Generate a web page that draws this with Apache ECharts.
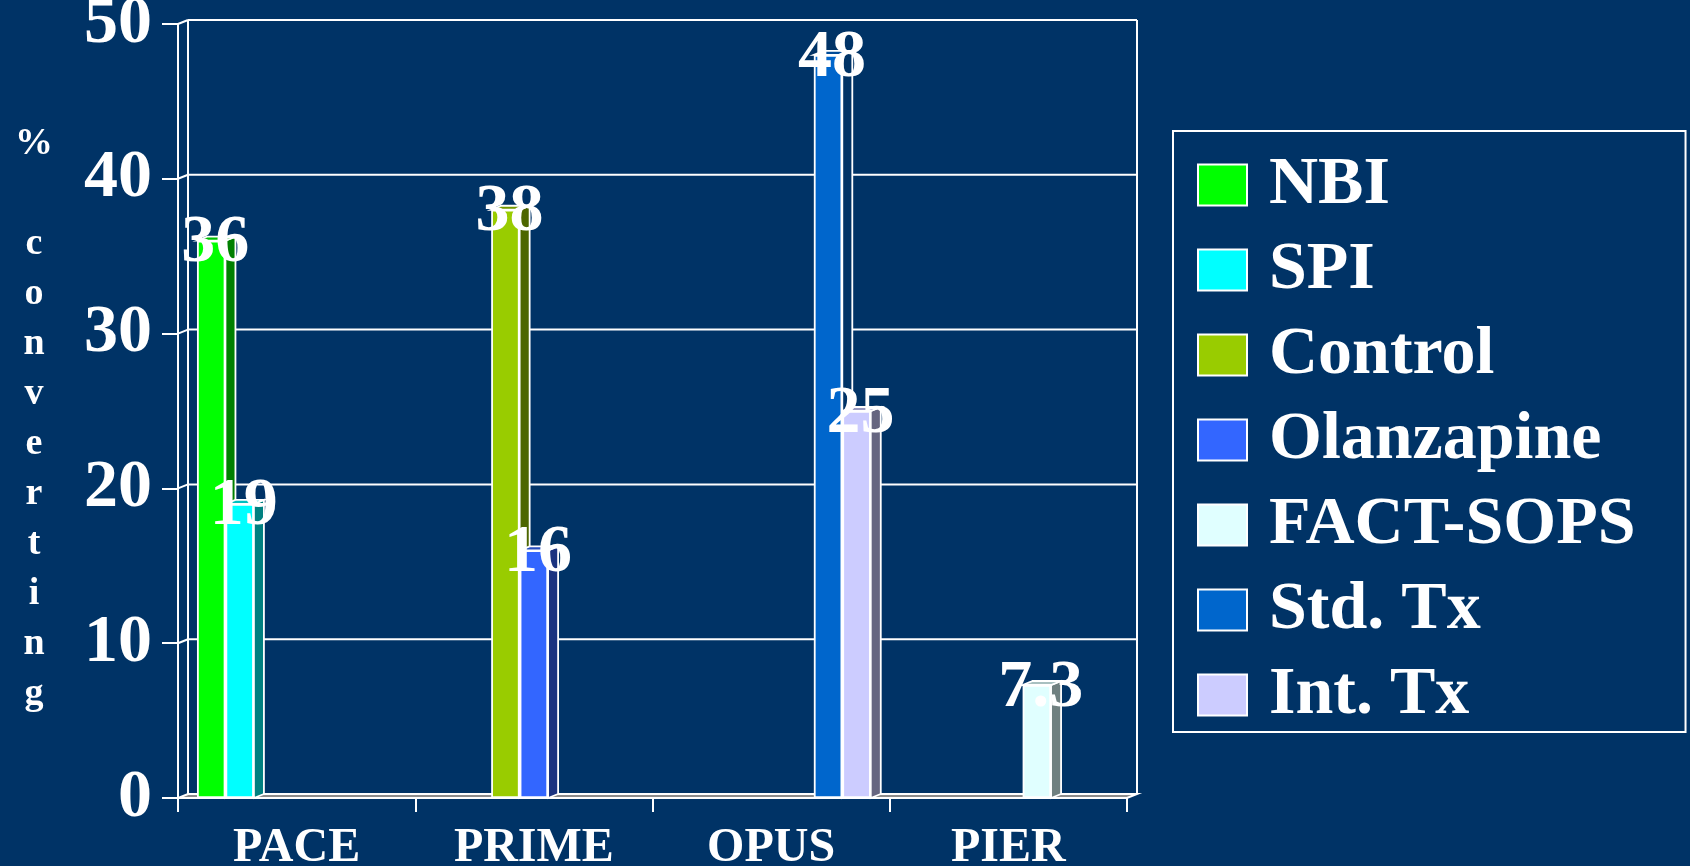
<!DOCTYPE html>
<html><head><meta charset="utf-8">
<script src="https://cdn.jsdelivr.net/npm/echarts@6/dist/echarts.min.js"></script>
<style>html,body{margin:0;padding:0;background:#003366;}#c{width:1690px;height:866px;}</style>
</head><body><div id="c"></div>
<script>
// ---- data ----
const categories = ['PACE', 'PRIME', 'OPUS', 'PIER'];
const seriesNames = ['NBI', 'SPI', 'Control', 'Olanzapine', 'FACT-SOPS', 'Std. Tx', 'Int. Tx'];
const nbi        = [36, null, null, null];
const spi        = [19, null, null, null];
const control    = [null, 38, null, null];
const olanzapine = [null, 16, null, null];
const factSops   = [null, null, null, 7.3];
const stdTx      = [null, null, 48, null];
const intTx      = [null, null, 25, null];
const yTicks = [0, 10, 20, 30, 40, 50];
const yTitle = '% converting';

// ---- style ----
const seriesValues = [nbi, spi, control, olanzapine, factSops, stdTx, intTx];
const frontColors = ['#00FF00', '#00FFFF', '#99CC00', '#3366FF', '#E0FFFF', '#0066CC', '#CCCCFF'];
const sideColors  = ['#008000', '#008080', '#4D6600', '#1A3380', '#708080', '#003366', '#666680'];
const topColors   = ['#00C000', '#00C0C0', '#739900', '#264DBF', '#A8C0C0', '#004C99', '#9999C0'];
const DX = 10, DY = -4;
const GAP = 0.16;
const FONT = '"Liberation Serif", "Times New Roman", serif';

const faceData = [];
seriesValues.forEach((arr, s) => arr.forEach((v, c) => { if (v != null) faceData.push([c, v, s]); }));

const titleText = (() => {
  const parts = yTitle.split(' ');
  return parts[0] + '\n\n' + parts[1].split('').join('\n');
})();

const chart = echarts.init(document.getElementById('c'));

const decorSeries = {
  type: 'custom', z: 1, silent: true,
  coordinateSystem: 'cartesian2d',
  encode: { x: 0, y: 1 },
  data: yTicks.map(v => [0, v]),
  renderItem: function (params, api) {
    const cs = params.coordSys;
    const x0 = cs.x, x1 = cs.x + cs.width;
    const v = api.value(1);
    const y = api.coord([0, v])[1];
    const children = [];
    const ls = { stroke: '#fff', lineWidth: 2 };
    if (v === yTicks[0]) {
      const yTop = api.coord([0, yTicks[yTicks.length - 1]])[1];
      children.push({ type: 'polygon', shape: { points: [[x0, y], [x1, y], [x1 + DX, y + DY], [x0 + DX, y + DY]] },
        style: { fill: '#8C8C8C', stroke: '#fff', lineWidth: 2 } });
      children.push({ type: 'line', shape: { x1: x0 + DX, y1: yTop + DY, x2: x0 + DX, y2: y + DY }, style: ls });
      children.push({ type: 'line', shape: { x1: x1 + DX, y1: yTop + DY, x2: x1 + DX, y2: y + DY }, style: ls });
    } else {
      children.push({ type: 'line', shape: { x1: x0 + DX, y1: y + DY, x2: x1 + DX, y2: y + DY }, style: ls });
      children.push({ type: 'line', shape: { x1: x0, y1: y, x2: x0 + DX, y2: y + DY }, style: ls });
    }
    return { type: 'group', children };
  }
};

const faceSeries = {
  type: 'custom', z: 2, silent: true,
  coordinateSystem: 'cartesian2d',
  encode: { x: 0, y: 1 },
  data: faceData,
  renderItem: function (params, api) {
    const c = api.value(0), v = api.value(1), s = api.value(2);
    const p = api.coord([c, v]);
    const b = api.coord([c, 0]);
    const band = api.size([1, 0])[0];
    const used = band * (1 - GAP);
    const bw = used / seriesNames.length;
    const xl = p[0] - used / 2 + s * bw, xr = xl + bw;
    return { type: 'group', children: [
      { type: 'polygon', shape: { points: [[xr, p[1]], [xr + DX, p[1] + DY], [xr + DX, b[1] + DY], [xr, b[1]]] },
        style: { fill: sideColors[s], stroke: '#fff', lineWidth: 1.8 } },
      { type: 'polygon', shape: { points: [[xl, p[1]], [xl + DX, p[1] + DY], [xr + DX, p[1] + DY], [xr, p[1]]] },
        style: { fill: topColors[s], stroke: '#fff', lineWidth: 1.8 } }
    ] };
  }
};

const barSeries = seriesNames.map((name, i) => ({
  type: 'bar', name, z: 3,
  data: seriesValues[i],
  barGap: '0%', barCategoryGap: (GAP * 100) + '%',
  itemStyle: { color: frontColors[i], borderColor: '#fff', borderWidth: 1.8 },
  label: {
    show: true, position: ['50%', 0], align: 'center', verticalAlign: 'middle', offset: [4, 3],
    color: '#fff', fontSize: 68, fontWeight: 'bold', fontFamily: FONT
  }
}));

chart.setOption({
  backgroundColor: '#003366',
  animation: false,
  textStyle: { fontFamily: FONT },
  grid: { left: 178, right: 563, top: 24, bottom: 68, containLabel: false, outerBoundsMode: 'none' },
  legend: {
    orient: 'vertical', left: 1173, top: 131,
    data: seriesNames,
    itemWidth: 49, itemHeight: 41, itemGap: 17,
    padding: [20, 50, 3, 24],
    borderColor: '#fff', borderWidth: 2,
    icon: 'rect',
    itemStyle: { borderColor: '#fff', borderWidth: 2 },
    textStyle: { color: '#fff', fontSize: 68, fontWeight: 'bold', fontFamily: FONT, lineHeight: 66, padding: [0, 0, 0, 17] }
  },
  xAxis: {
    type: 'category', data: categories,
    axisLine: { lineStyle: { color: '#fff', width: 2 } },
    axisTick: { show: true, length: 14, lineStyle: { color: '#fff', width: 2 } },
    axisLabel: { color: '#fff', fontSize: 48, fontWeight: 'bold', fontFamily: FONT, margin: 27 }
  },
  yAxis: {
    type: 'value', min: yTicks[0], max: yTicks[yTicks.length - 1], interval: 10,
    axisLine: { show: true, lineStyle: { color: '#fff', width: 2 } },
    axisTick: { show: true, length: 16, lineStyle: { color: '#fff', width: 2 } },
    splitLine: { show: false },
    axisLabel: { color: '#fff', fontSize: 68, fontWeight: 'bold', fontFamily: FONT, margin: 26, padding: [6, 0, 0, 0] }
  },
  graphic: [{
    type: 'text', x: 34, y: 419, silent: true,
    style: { text: titleText, fill: '#fff', fontSize: 38, fontWeight: 'bold', fontFamily: FONT,
      lineHeight: 50, align: 'center', verticalAlign: 'middle' }
  }],
  series: [decorSeries, faceSeries].concat(barSeries)
});
</script></body></html>
